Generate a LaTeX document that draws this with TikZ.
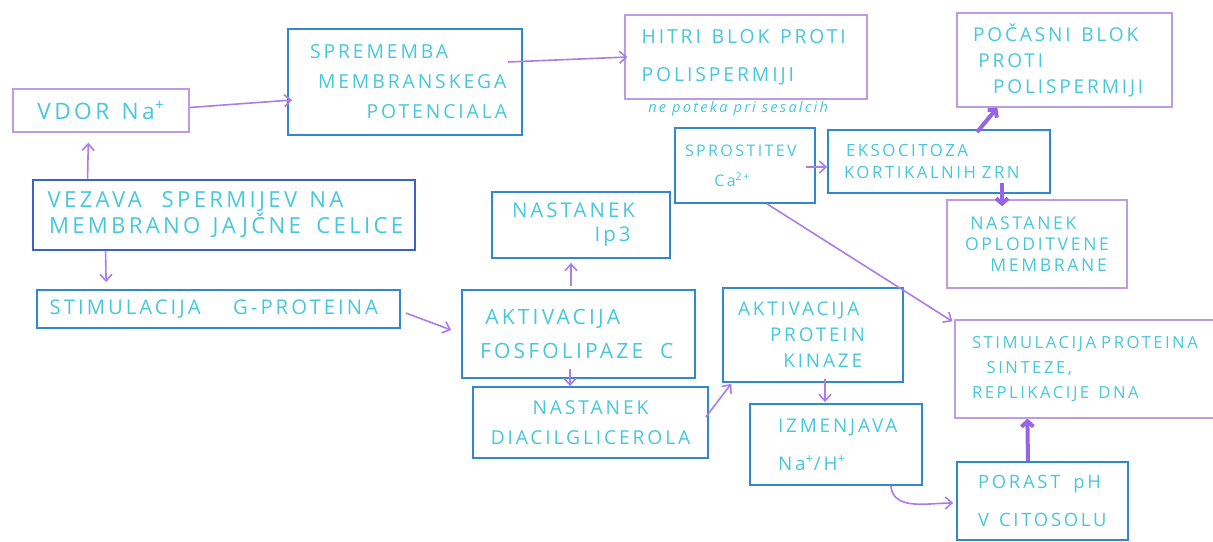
\documentclass[tikz,border=0pt]{standalone}
\usepackage{fontspec}
\setmainfont{Open Sans}[LetterSpace=15]
\usetikzlibrary{arrows.meta,calc}
\lefthyphenmin=64
\hyphenpenalty=10000
\definecolor{txt}{RGB}{70,200,220}
\definecolor{boxb}{RGB}{50,135,210}
\definecolor{boxd}{RGB}{60,95,210}
\definecolor{boxp}{RGB}{190,155,228}
\definecolor{arrp}{RGB}{170,125,232}
\definecolor{arrd}{RGB}{150,100,230}
\newcommand\fsz[2]{\fontsize{#1}{#2}\selectfont}
\newcommand\ws[1][0.55em]{\nobreak\hspace{#1}\nobreak}
\tikzset{
  box/.style={rectangle, text=txt, inner ysep=0pt, align=left},
  bb/.style={box, draw=boxb, line width=1.3pt},
  bp/.style={box, draw=boxp, line width=1pt},
  bd/.style={box, draw=boxd, line width=2.2pt},
  arr/.style={draw=arrp, line width=1.2pt, -{Straight Barb[length=5pt,width=9pt]}},
  tarr/.style={draw=arrd, line width=3pt, -{Straight Barb[length=4pt,width=9pt]}},
  notetext/.style={text=txt, inner sep=0pt, font=\fsz{11}{13}\itshape}
}
\begin{document}
\begin{tikzpicture}[x=0.75pt,y=-0.75pt]
\useasboundingbox (0,0) rectangle (1213,542);

% nodes
\node[bp, align=center, text width=117pt, inner xsep=7.5pt, minimum height=32.25pt, font=\fsz{17}{22}] (vdor) at (101,110.5) {VDOR\ws Na\textsuperscript{+}};
\node[bb, text width=145.5pt, inner xsep=15pt, minimum height=79.5pt, font=\fsz{14.5}{22.5}] (sprem) at (405,82) {\hspace*{1.5pt}SPREMEMBA\\\hspace*{7.5pt}MEMBRANSKEGA\\\hspace*{44pt}POTENCIALA};
\node[bp, text width=160.5pt, inner xsep=10.5pt, minimum height=63pt, font=\fsz{14.5}{28.5}] (hitri) at (746,57) {\hspace*{2pt}HITRI\ws BLOK\ws PROTI\\\hspace*{2pt}POLISPERMIJI};
\node[notetext, anchor=west] (note) at (648,109) {ne~poteka~pri~sesalcih};
\node[bp, text width=137.25pt, inner xsep=12pt, minimum height=70.5pt, font=\fsz{14.3}{19.5}] (pocasni) at (1064.5,60) {POČASNI\ws BLOK\\\hspace*{4pt}PROTI\\\hspace*{15pt}POLISPERMIJI};
\node[bb, text width=90pt, inner xsep=7.5pt, minimum height=56.25pt, font=\fsz{12}{22.5}] (sprost) at (745,165.5) {SPROSTITEV\\\hspace*{22pt}Ca\textsuperscript{2+}};
\node[bb, text width=142.5pt, inner xsep=12pt, minimum height=47.25pt, font=\fsz{12.6}{17}] (eksoc) at (939,161.5) {\hspace*{1.5pt}EKSOCITOZA\\KORTIKALNIH\ws[0.35em]ZRN};
\node[bp, text width=114pt, inner xsep=10.5pt, minimum height=66pt, font=\fsz{13.2}{16}] (oplod) at (1037,244) {\hspace*{7pt}NASTANEK\\\hspace*{3pt}OPLODITVENE\\\hspace*{22pt}MEMBRANE};
\node[bd, text width=268.5pt, inner xsep=9pt, minimum height=52.5pt, font=\fsz{16.6}{19.5}] (vezava) at (224,215) {\hspace*{2pt}VEZAVA\ws[0.9em]SPERMIJEV\ws NA\\\hspace*{3pt}MEMBRANO\ws JAJČNE\ws[0.7em]CELICE};
\node[bb, text width=257.25pt, inner xsep=7.5pt, minimum height=28.5pt, font=\fsz{15.2}{18}] (stimg) at (218.5,309) {\hspace*{2pt}STIMULACIJA\ws[1.6em]G-PROTEINA};
\node[bb, text width=103.5pt, inner xsep=15pt, minimum height=49.5pt, font=\fsz{15.3}{18}] (ip3) at (581,225) {NASTANEK\\\hspace*{62pt}Ip3};
\node[bb, text width=147.75pt, inner xsep=13.5pt, minimum height=66pt, font=\fsz{15.8}{25}] (fosf) at (578.5,334) {\hspace*{4pt}AKTIVACIJA\\FOSFOLIPAZE\ws[0.8em]C};
\node[bb, align=center, text width=161.25pt, inner xsep=7.5pt, minimum height=53.25pt, font=\fsz{14.4}{22.5}] (diacil) at (590.5,422.5) {NASTANEK\\DIACILGLICEROLA};
\node[bb, text width=112.5pt, inner xsep=11.25pt, minimum height=70.5pt, font=\fsz{14.2}{19.5}] (kinaze) at (813,335) {AKTIVACIJA\\\hspace*{24pt}PROTEIN\\\hspace*{34pt}KINAZE};
\node[bb, text width=99pt, inner xsep=15pt, minimum height=60.75pt, font=\fsz{14.2}{28.5}] (izmen) at (836,444.5) {\hspace*{6pt}IZMENJAVA\\\hspace*{6pt}Na\textsuperscript{+}/H\textsuperscript{+}};
\node[bp, text width=184.5pt, inner xsep=12.75pt, minimum height=73.5pt, font=\fsz{12.5}{19}] (stimp) at (1095,369) {STIMULACIJA\ws[0.3em]PROTEINA\\\hspace*{11pt}SINTEZE,\\REPLIKACIJE\ws DNA};
\node[bb, text width=105.75pt, inner xsep=11.25pt, minimum height=58.5pt, font=\fsz{13.8}{28.5}] (porast) at (1042.5,501) {\hspace*{4.5pt}PORAST\ws[0.7em]pH\\\hspace*{4.5pt}V\ws CITOSOLU};

% connectors
\draw[arr] ($(vezava.north west)+(56,0)$) -- ($(vdor.south west)+(76,10)$);
\draw[arr] ($(vdor.east)+(0,-3)$) -- ($(sprem.west)+(5,18)$);
\draw[arr] ($(sprem.east)+(-15,-20)$) -- ($(hitri.west)+(3,0)$);
\draw[arr] ($(vezava.south west)+(74,0)$) -- ($(stimg.north west)+(70,-7)$);
\draw[arr] ($(stimg.east)+(5,4)$) -- ($(fosf.west)+(-10,-4)$);
\draw[arr] ($(fosf.north)+(-7.5,-3)$) -- ($(ip3.south)+(-10,4)$);
\draw[arr] ($(fosf.south)+(-8.5,-10)$) -- ($(diacil.north)+(-20.5,0)$);
\draw[arr] ($(diacil.east)+(-3,-5.5)$) -- ($(kinaze.south west)+(9,1)$);
\draw[arr] ($(kinaze.south)+(12,-4)$) -- ($(izmen.north)+(-11,-1)$);
\draw[arr] ($(izmen.south east)+(-32,0)$) to[out=-85,in=180] ($(porast.west)+(-3,2)$);
\draw[arr] ($(sprost.east)+(-10,1.5)$) -- ($(eksoc.west)+(0,5.5)$);
\draw[arr] ($(sprost.south)+(22,0)$) -- ($(stimp.north west)+(-2,2)$);
\draw[tarr] ($(eksoc.north)+(38,3)$) -- ($(pocasni.south west)+(41,0)$);
\draw[tarr] ($(eksoc.south)+(63,-11)$) -- ($(oplod.north)+(-35,7)$);
\draw[tarr] ($(porast.north)+(-14.5,0)$) -- ($(stimp.south west)+(73,0)$);
\end{tikzpicture}
\end{document}
